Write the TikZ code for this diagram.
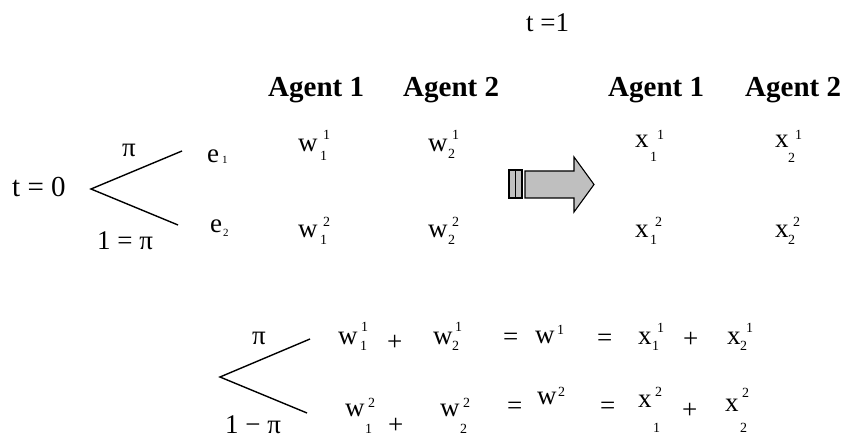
\documentclass[tikz,border=0pt]{standalone}
\usepackage{fontspec}
\setmainfont{Liberation Serif}
\tikzset{
  txt/.style={inner sep=0pt, anchor=base west, text depth=0pt, font=\fontsize{27}{30}\selectfont},
  let/.style={txt, text height=0.46em},
  big/.style={inner sep=0pt, anchor=base west, text depth=0pt, font=\fontsize{29}{32}\selectfont},
  scr/.style={inner sep=0pt, anchor=base west, text depth=0pt, text height=0.66em, font=\fontsize{14}{16}\selectfont},
  tinyscr/.style={inner sep=0pt, anchor=base west, text depth=0pt, text height=0.66em, font=\fontsize{11}{12}\selectfont},
  hdr/.style={inner sep=0pt, anchor=base west, text depth=0pt, font=\fontsize{29}{32}\selectfont\bfseries},
  branch/.style={line width=1.4pt},
  bigarrow/.style={draw=black, line width=1.1pt, fill=black!25, line join=miter}
}
\begin{document}
\begin{tikzpicture}[x=1pt,y=-1pt]
\path[use as bounding box] (0,0) rectangle (844,438);
% time labels
\node[txt] (t1) at (526,32) {t =1};
\node[big] (t0) at (12,197) {t = 0};
% headers
\node[hdr] (ha1) at (268,97) {Agent 1};
\node[hdr] (ha2) at (403,97) {Agent 2};
\node[hdr] (hb1) at (608,97) {Agent 1};
\node[hdr] (hb2) at (745,97) {Agent 2};
% top tree
\coordinate (v0) at (91,189);
\coordinate (u0) at (182,151);
\coordinate (l0) at (178,225);
\draw[branch] (u0) -- (v0) -- (l0);
\node[txt] (p0) at (122,157) {π};
\node[txt] (q0) at (97,250) {1 = π};
\node[let] (e1) at (207,163) {e};
\node[tinyscr] (e1s) at (222,164) {1};
\node[let] (e2) at (210,233) {e};
\node[tinyscr] (e2s) at (223,237) {2};
% endowments
\node[let] (w11) at (298,152) {w};
\node[scr] (w11p) at (323,140) {1};
\node[scr] (w11b) at (320,161) {1};
\node[let] (w21) at (428,152) {w};
\node[scr] (w21p) at (452,140) {1};
\node[scr] (w21b) at (448,159) {2};
\node[let] (w12) at (298,238) {w};
\node[scr] (w12p) at (323,227) {2};
\node[scr] (w12b) at (320,245) {1};
\node[let] (w22) at (428,238) {w};
\node[scr] (w22p) at (452,227) {2};
\node[scr] (w22b) at (448,245) {2};
% arrow
\coordinate (sa) at (509,170);
\coordinate (sb) at (522,198);
\draw[bigarrow] (sa) rectangle (sb);
\draw[line width=1.1pt] (515.5,170) -- (515.5,198);
\draw[bigarrow] (525,171) -- (574,171) -- (574,157) -- (594,184.5) -- (574,212) -- (574,198) -- (525,198) -- cycle;
% allocations
\node[let] (x11) at (635,148) {x};
\node[scr] (x11p) at (657,140) {1};
\node[scr] (x11b) at (650,162) {1};
\node[let] (x21) at (775,148) {x};
\node[scr] (x21p) at (795,140) {1};
\node[scr] (x21b) at (788,163) {2};
\node[let] (x12) at (635,238) {x};
\node[scr] (x12p) at (655,227) {2};
\node[scr] (x12b) at (650,245) {1};
\node[let] (x22) at (775,238) {x};
\node[scr] (x22p) at (793,227) {2};
\node[scr] (x22b) at (788,245) {2};
% bottom tree
\coordinate (v1) at (220,377);
\coordinate (u1) at (310,339);
\coordinate (l1) at (307,413);
\draw[branch] (u1) -- (v1) -- (l1);
\node[txt] (p1) at (252,345) {π};
\node[txt] (q1) at (225,434) {1 − π};
% row 1
\node[let] (r1w1) at (338,345) {w};
\node[scr] (r1w1p) at (361,332) {1};
\node[scr] (r1w1b) at (360,351) {1};
\node[txt] (r1pa) at (387,351) {+};
\node[let] (r1w2) at (433,345) {w};
\node[scr] (r1w2p) at (455,332) {1};
\node[scr] (r1w2b) at (452,351) {2};
\node[txt] (r1ea) at (503,346) {=};
\node[let] (r1w) at (535,344) {w};
\node[scr] (r1wp) at (557,335) {1};
\node[txt] (r1eb) at (597,347) {=};
\node[let] (r1x1) at (638,345) {x};
\node[scr] (r1x1p) at (657,333) {1};
\node[scr] (r1x1b) at (652,351) {1};
\node[txt] (r1pb) at (683,348) {+};
\node[let] (r1x2) at (727,345) {x};
\node[scr] (r1x2p) at (746,333) {1};
\node[scr] (r1x2b) at (740,351) {2};
% row 2
\node[let] (r2w1) at (345,417) {w};
\node[scr] (r2w1p) at (368,408) {2};
\node[scr] (r2w1b) at (365,433) {1};
\node[txt] (r2pa) at (388,433) {+};
\node[let] (r2w2) at (440,417) {w};
\node[scr] (r2w2p) at (463,408) {2};
\node[scr] (r2w2b) at (460,433) {2};
\node[txt] (r2ea) at (507,415) {=};
\node[let] (r2w) at (537,405) {w};
\node[scr] (r2wp) at (558,397) {2};
\node[txt] (r2eb) at (600,415) {=};
\node[let] (r2x1) at (638,407) {x};
\node[scr] (r2x1p) at (655,397) {2};
\node[scr] (r2x1b) at (653,432) {1};
\node[txt] (r2pb) at (682,419) {+};
\node[let] (r2x2) at (725,412) {x};
\node[scr] (r2x2p) at (742,398) {2};
\node[scr] (r2x2b) at (740,432) {2};
\end{tikzpicture}
\end{document}
